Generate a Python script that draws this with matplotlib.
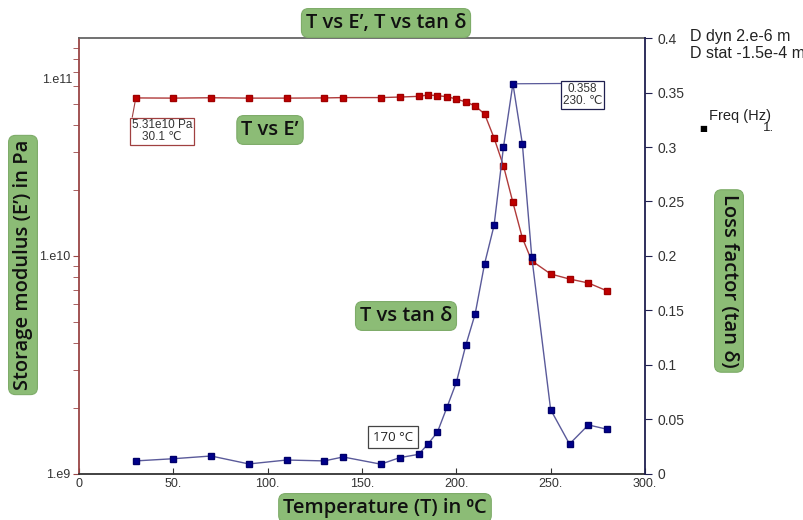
import matplotlib
matplotlib.use("Agg")
import matplotlib.pyplot as plt
from matplotlib.ticker import FixedLocator, LogLocator, NullFormatter
import matplotlib.transforms as mtransforms

# temperatures (deg C) shared by both series
temperatura = [30.1, 50, 70, 90, 110, 130, 140, 160, 170, 180, 185, 190, 195,
               200, 205, 210, 215, 220, 225, 230, 235, 240, 250, 260, 270, 280]
# storage modulus E' (Pa)
modulo_E = [5.31e10, 5.30e10, 5.32e10, 5.30e10, 5.30e10, 5.31e10, 5.33e10, 5.33e10,
            5.36e10, 5.40e10, 5.48e10, 5.44e10, 5.38e10, 5.25e10, 5.09e10, 4.88e10,
            4.48e10, 3.48e10, 2.59e10, 1.76e10, 1.21e10, 9.5e9, 8.27e9, 7.84e9,
            7.52e9, 6.91e9]
# loss factor tan delta
tan_delta = [0.012, 0.014, 0.0165, 0.0092, 0.0128, 0.012, 0.0156, 0.009, 0.015,
             0.018, 0.0275, 0.0385, 0.061, 0.084, 0.118, 0.147, 0.193, 0.228,
             0.300, 0.358, 0.303, 0.199, 0.059, 0.0275, 0.045, 0.041]

x_ticks = [0, 50, 100, 150, 200, 250, 300]
x_labels = ["0", "50.", "100.", "150.", "200.", "250.", "300."]
y2_ticks = [0, 0.05, 0.1, 0.15, 0.2, 0.25, 0.3, 0.35, 0.4]
y2_labels = ["0", "0.05", "0.1", "0.15", "0.2", "0.25", "0.3", "0.35", "0.4"]

fonte_eixo = ["Liberation Sans", "DejaVu Sans"]
fonte_caixa = ["Open Sans", "DejaVu Sans"]
verde = "#8cbc76"
cor_esq = "#9a4545"
cor_dir = "#1f1f4f"

fig = plt.figure(figsize=(8.04, 5.20), dpi=100)
ax = fig.add_axes([0.0983, 0.0885, 0.7039, 0.8384])
ax2 = ax.twinx()

ax.plot(temperatura, modulo_E, color="#b03a3a", lw=1.0, marker="s", ms=5,
        mfc="#c00000", mec="#a00000", zorder=3)
ax2.plot(temperatura, tan_delta, color="#5a5a9a", lw=1.0, marker="s", ms=5,
         mfc="#00008b", mec="#00006b", zorder=3)

ax.set_yscale("log")
ax.set_xlim(0, 300)
ax.set_ylim(1e9, 1e11)
ax2.set_ylim(0, 0.4)

ax.set_xticks(x_ticks)
ax.set_xticklabels(x_labels, family=fonte_eixo, fontsize=9, color="#333333")
ax.tick_params(axis="x", direction="in", length=4, pad=3, color="#333333")

ax.yaxis.set_major_locator(FixedLocator([1e9, 1e10]))
ax.set_yticklabels(["1.e9", "1.e10"], family=fonte_eixo, fontsize=9, color="#333333")
ax.yaxis.set_minor_locator(LogLocator(base=10, subs=range(2, 10)))
ax.yaxis.set_minor_formatter(NullFormatter())
ax.tick_params(axis="y", which="both", direction="out", length=4, color=cor_esq, pad=2)
# label "1.e11" sits a bit below the top in the original chart
ax.text(-0.012, 6.4e10, "1.e11", transform=mtransforms.blended_transform_factory(ax.transAxes, ax.transData),
        ha="right", va="center", family=fonte_eixo, fontsize=9, color="#333333")

ax2.set_yticks(y2_ticks)
ax2.set_yticklabels(y2_labels, family=fonte_eixo, fontsize=10, color="#333333")
ax2.tick_params(axis="y", direction="out", length=5, color=cor_dir, pad=4)

for s in ["left", "top", "bottom"]:
    ax2.spines[s].set_visible(False)
ax.spines["right"].set_visible(False)
ax.spines["left"].set_color(cor_esq)
ax.spines["top"].set_color("#666666")
ax.spines["bottom"].set_color("#333333")
ax2.spines["right"].set_color(cor_dir)
for s in ["left", "top", "bottom"]:
    ax.spines[s].set_linewidth(1.3)
ax2.spines["right"].set_linewidth(1.3)

# annotations
ax.annotate("5.31e10 Pa\n30.1 \u2103", xy=(30.1, 5.31e10), xytext=(44, 3.74e10),
            ha="center", va="center", family=fonte_eixo, fontsize=8.5, color="#333333",
            linespacing=0.95,
            bbox=dict(boxstyle="square,pad=0.15", fc="white", ec="#a04040", lw=0.9),
            arrowprops=dict(arrowstyle="-", color="#a04040", lw=0.8, relpos=(0, 1),
                            shrinkA=0, shrinkB=3))
ax2.annotate("0.358\n230. \u2103", xy=(230, 0.358), xytext=(267, 0.3477),
             ha="center", va="center", family=fonte_eixo, fontsize=8.5, color="#333333",
             linespacing=0.95,
             bbox=dict(boxstyle="square,pad=0.15", fc="white", ec=cor_dir, lw=0.9),
             arrowprops=dict(arrowstyle="-", color="#5a5a9a", lw=0.9, relpos=(1, 1),
                             shrinkA=0, shrinkB=3))
ax2.text(166.4, 0.0339, "170 \u00b0C", ha="center", va="center", family=fonte_caixa,
         fontsize=9.5, color="#222222",
         bbox=dict(boxstyle="square,pad=0.35", fc="white", ec="#444444", lw=0.9))

# green caption boxes
caixa = dict(boxstyle="round,pad=0.22,rounding_size=0.35", fc=verde, ec="#7eac69", lw=0.8)
fig.text(386 / 804, 1 - 23 / 520, "T vs E\u2019, T vs tan \u03b4", ha="center", va="center",
         family=fonte_caixa, fontsize=14.5, weight="semibold", color="#111111", bbox=caixa)
fig.text(270 / 804, 1 - 130 / 520, "T vs E\u2019", ha="center", va="center",
         family=fonte_caixa, fontsize=14.5, weight="semibold", color="#111111", bbox=caixa)
fig.text(406 / 804, 1 - 316 / 520, "T vs tan \u03b4", ha="center", va="center",
         family=fonte_caixa, fontsize=14.5, weight="semibold", color="#111111", bbox=caixa)
fig.text(385 / 804, 1 - 508 / 520, "Temperature (T) in \u2070C", ha="center", va="center",
         family=fonte_caixa, fontsize=14.5, weight="semibold", color="#111111", bbox=caixa)
fig.text(23 / 804, 1 - 265 / 520, "Storage modulus (E\u2019) in Pa", ha="center", va="center",
         rotation=90, family=fonte_caixa, fontsize=14.5, weight="semibold", color="#111111", bbox=caixa)
fig.text(729 / 804, 1 - 281 / 520, "Loss factor (tan \u03b4)", ha="center", va="center",
         rotation=-90, family=fonte_caixa, fontsize=14.5, weight="semibold", color="#111111", bbox=caixa)

# instrument info at upper right
fig.text(690 / 804, 1 - 37 / 520, "D dyn 2.e-6 m", ha="left", va="center",
         family=fonte_eixo, fontsize=11.5, color="#222222")
fig.text(690 / 804, 1 - 53 / 520, "D stat -1.5e-4 m", ha="left", va="center",
         family=fonte_eixo, fontsize=11.5, color="#222222")
fig.text(709 / 804, 1 - 116 / 520, "Freq (Hz)", ha="left", va="center",
         family=fonte_eixo, fontsize=10.5, color="#222222")
fig.text(763 / 804, 1 - 128 / 520, "1.", ha="left", va="center",
         family=fonte_eixo, fontsize=9.5, color="#222222")
fig.text(703 / 804, 1 - 128 / 520, "\u25a0", ha="center", va="center",
         family=["DejaVu Sans"], fontsize=6, color="black")

fig.savefig("out.png", dpi=100)
